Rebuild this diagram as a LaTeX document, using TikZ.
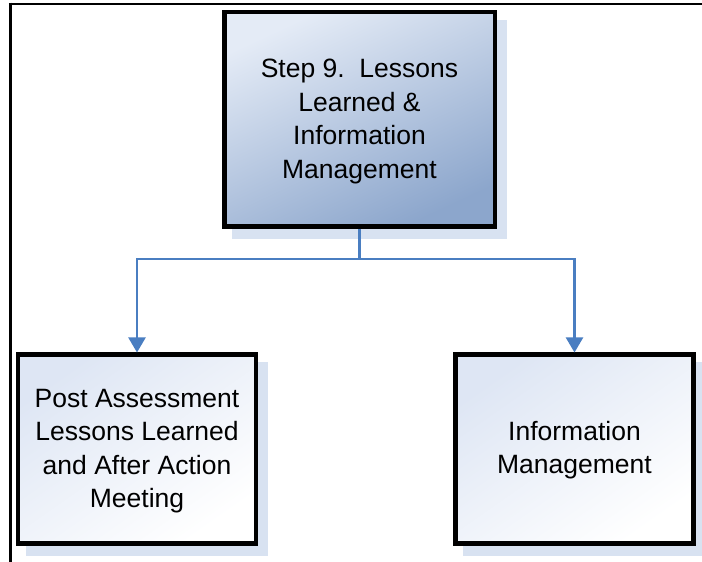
\documentclass[tikz,border=0pt]{standalone}
\usepackage{fontspec}
\setmainfont{Liberation Sans}
\usetikzlibrary{arrows.meta,backgrounds}
\definecolor{connc}{RGB}{74,126,193}
\definecolor{shadowc}{RGB}{216,226,241}
\definecolor{topA}{RGB}{228,235,246}
\definecolor{topB}{RGB}{140,166,204}
\definecolor{botA}{RGB}{222,230,244}
\begin{document}
\begin{tikzpicture}[x=1pt,y=1pt,
  box/.style={draw=black, line width=4.5pt, inner sep=0pt, align=center,
    font=\fontsize{26.5}{33.5}\selectfont, text=black},
  topbox/.style={box, minimum width=270.5pt, minimum height=214.5pt,
    top color=topA, bottom color=topB, shading angle=25},
  subbox/.style={box, minimum width=238pt, minimum height=189pt,
    top color=botA, bottom color=white, shading angle=35},
  shadowfill/.style={fill=shadowc, draw=none},
  link/.style={draw=connc, line width=2.2pt, -{Triangle[width=17pt,length=15pt]}},
  framestyle/.style={line width=2.7pt, draw=black}]
\useasboundingbox (0,0) rectangle (702,562);

% frame lines
\coordinate (fa) at (8.95,558);
\coordinate (fb) at (702,558);
\coordinate (fc) at (10.3,0);
\draw[framestyle] (fa) -- (fb);
\draw[framestyle] (10.3,559.35) -- (fc);

% boxes
\node[topbox] (top) at (359.5,442.5) {\parbox{260pt}{\centering\vspace*{4pt}Step 9.~~Lessons\\Learned \&\\Information\\Management}};
\node[subbox] (pal) at (137,112.75) {\parbox{236pt}{\centering\vspace*{4pt}Post Assessment\\Lessons Learned\\and After Action\\Meeting}};
\node[subbox] (im) at (574.5,112.75) {\parbox{236pt}{\centering\vspace*{2pt}Information\\Management}};

% shadows
\begin{scope}[on background layer]
  \fill[shadowfill] ([shift={(10,-10)}]top.south west) rectangle ([shift={(10,-10)}]top.north east);
  \fill[shadowfill] ([shift={(10,-10)}]pal.south west) rectangle ([shift={(10,-10)}]pal.north east);
  \fill[shadowfill] ([shift={(10,-10)}]im.south west) rectangle ([shift={(10,-10)}]im.north east);
\end{scope}

% connectors
\draw[link] (top.south) -- ++(0,-30) -| (pal.north);
\draw[link] (top.south) -- ++(0,-30) -| (im.north);
\end{tikzpicture}
\end{document}
